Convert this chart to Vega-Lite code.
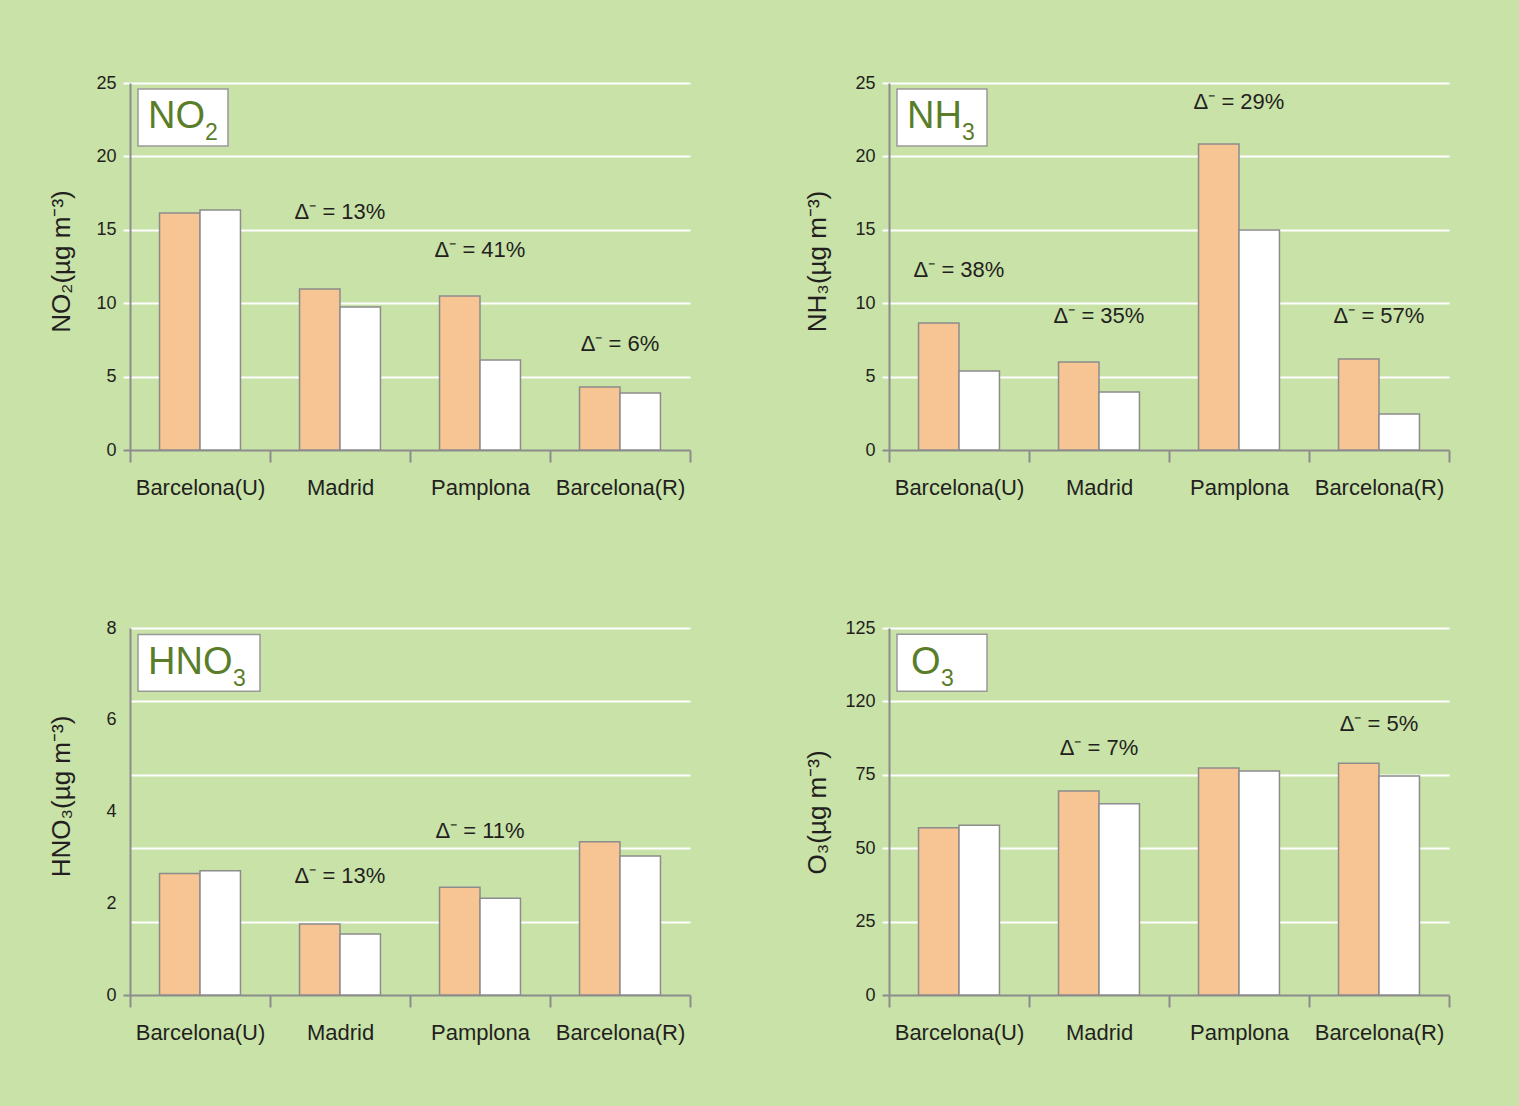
{
  "$schema": "https://vega.github.io/schema/vega-lite/v6.json",
  "padding": {"left": 48, "top": 74, "right": 75, "bottom": 75},
  "datasets": {
    "bars": [
      {"panel": "NO2", "site": "Barcelona(U)", "series": "S1", "value": 16.14},
      {"panel": "NO2", "site": "Barcelona(U)", "series": "S2", "value": 16.35},
      {"panel": "NO2", "site": "Madrid", "series": "S1", "value": 10.97},
      {"panel": "NO2", "site": "Madrid", "series": "S2", "value": 9.74},
      {"panel": "NO2", "site": "Pamplona", "series": "S1", "value": 10.49},
      {"panel": "NO2", "site": "Pamplona", "series": "S2", "value": 6.13},
      {"panel": "NO2", "site": "Barcelona(R)", "series": "S1", "value": 4.29},
      {"panel": "NO2", "site": "Barcelona(R)", "series": "S2", "value": 3.88},
      {"panel": "NH3", "site": "Barcelona(U)", "series": "S1", "value": 8.65},
      {"panel": "NH3", "site": "Barcelona(U)", "series": "S2", "value": 5.38},
      {"panel": "NH3", "site": "Madrid", "series": "S1", "value": 5.99},
      {"panel": "NH3", "site": "Madrid", "series": "S2", "value": 3.95},
      {"panel": "NH3", "site": "Pamplona", "series": "S1", "value": 20.84},
      {"panel": "NH3", "site": "Pamplona", "series": "S2", "value": 14.99},
      {"panel": "NH3", "site": "Barcelona(R)", "series": "S1", "value": 6.2},
      {"panel": "NH3", "site": "Barcelona(R)", "series": "S2", "value": 2.45},
      {"panel": "HNO3", "site": "Barcelona(U)", "series": "S1", "value": 2.65},
      {"panel": "HNO3", "site": "Barcelona(U)", "series": "S2", "value": 2.71},
      {"panel": "HNO3", "site": "Madrid", "series": "S1", "value": 1.55},
      {"panel": "HNO3", "site": "Madrid", "series": "S2", "value": 1.33},
      {"panel": "HNO3", "site": "Pamplona", "series": "S1", "value": 2.35},
      {"panel": "HNO3", "site": "Pamplona", "series": "S2", "value": 2.11},
      {"panel": "HNO3", "site": "Barcelona(R)", "series": "S1", "value": 3.34},
      {"panel": "HNO3", "site": "Barcelona(R)", "series": "S2", "value": 3.03},
      {"panel": "O3", "site": "Barcelona(U)", "series": "S1", "value": 57.0},
      {"panel": "O3", "site": "Barcelona(U)", "series": "S2", "value": 57.8},
      {"panel": "O3", "site": "Madrid", "series": "S1", "value": 69.5},
      {"panel": "O3", "site": "Madrid", "series": "S2", "value": 65.1},
      {"panel": "O3", "site": "Pamplona", "series": "S1", "value": 77.3},
      {"panel": "O3", "site": "Pamplona", "series": "S2", "value": 76.3},
      {"panel": "O3", "site": "Barcelona(R)", "series": "S1", "value": 78.9},
      {"panel": "O3", "site": "Barcelona(R)", "series": "S2", "value": 74.6}
    ],
    "notes": [
      {"panel": "NO2", "site": "Madrid", "y": 16.2, "label": "Δ⁻ = 13%"},
      {"panel": "NO2", "site": "Pamplona", "y": 13.62, "label": "Δ⁻ = 41%"},
      {"panel": "NO2", "site": "Barcelona(R)", "y": 7.22, "label": "Δ⁻ = 6%"},
      {"panel": "NH3", "site": "Barcelona(U)", "y": 12.26, "label": "Δ⁻ = 38%"},
      {"panel": "NH3", "site": "Madrid", "y": 9.13, "label": "Δ⁻ = 35%"},
      {"panel": "NH3", "site": "Pamplona", "y": 23.71, "label": "Δ⁻ = 29%"},
      {"panel": "NH3", "site": "Barcelona(R)", "y": 9.13, "label": "Δ⁻ = 57%"},
      {"panel": "HNO3", "site": "Madrid", "y": 2.59, "label": "Δ⁻ = 13%"},
      {"panel": "HNO3", "site": "Pamplona", "y": 3.57, "label": "Δ⁻ = 11%"},
      {"panel": "O3", "site": "Madrid", "y": 84.1, "label": "Δ⁻ = 7%"},
      {"panel": "O3", "site": "Barcelona(R)", "y": 92.3, "label": "Δ⁻ = 5%"}
    ],
    "titles": [
      {"panel": "NO2", "site": "Barcelona(U)", "y": 22.65, "name": "NO", "sub": "2"},
      {"panel": "NH3", "site": "Barcelona(U)", "y": 22.65, "name": "NH", "sub": "3"},
      {"panel": "HNO3", "site": "Barcelona(U)", "y": 7.24, "name": "HNO", "sub": "3"},
      {"panel": "O3", "site": "Barcelona(U)", "y": 113.2, "name": "O", "sub": "3"}
    ]
  },
  "columns": 2,
  "spacing": {"row": 178, "column": 199},
  "bounds": "flush",
  "concat": [
    {
      "width": 560, "height": 367,
      "layer": [
        {
          "data": {"name": "bars"},
          "transform": [{"filter": "datum.panel === 'NO2'"}],
          "mark": {"type": "bar", "stroke": "#8c8c8c", "strokeWidth": 1.5},
          "encoding": {
            "x": {"field": "site", "type": "nominal", "scale": {"domain": ["Barcelona(U)", "Madrid", "Pamplona", "Barcelona(R)"], "paddingInner": 0, "paddingOuter": 0}, "axis": {"title": null, "tickBand": "extent"}},
            "xOffset": {"field": "series", "type": "nominal", "scale": {"domain": ["S1", "S2"], "paddingInner": 0, "paddingOuter": 0.73}},
            "y": {"field": "value", "type": "quantitative", "scale": {"domain": [0, 25], "nice": false}, "axis": {"title": "NO₂(µg m⁻³)", "values": [0, 5, 10, 15, 20, 25], "titleX": -56, "titleY": 178, "tickColor": {"condition": {"test": "datum.value === 0", "value": "#8c8c8c"}, "value": "#ffffff"}, "gridColor": {"condition": {"test": "datum.value === 0", "value": "rgba(0,0,0,0)"}, "value": "#ffffff"}}},
            "color": {"field": "series", "type": "nominal", "scale": {"domain": ["S1", "S2"], "range": ["#f7c594", "#ffffff"]}, "legend": null}
          }
        },
        {
          "data": {"name": "titles"},
          "transform": [{"filter": "datum.panel === 'NO2'"}],
          "mark": {"type": "point", "shape": "M-1,-0.633H1V0.633H-1Z", "size": 8100, "filled": true, "fill": "#ffffff", "stroke": "#999999", "strokeWidth": 1.5, "opacity": 1, "xOffset": -17},
          "encoding": {"x": {"field": "site", "type": "nominal"}, "y": {"field": "y", "type": "quantitative"}}
        },
        {
          "data": {"name": "titles"},
          "transform": [{"filter": "datum.panel === 'NO2'"}],
          "mark": {"type": "text", "align": "left", "baseline": "alphabetic", "fontSize": 38, "color": "#5a7d2a", "dx": -52, "dy": 11},
          "encoding": {"x": {"field": "site", "type": "nominal"}, "y": {"field": "y", "type": "quantitative"}, "text": {"field": "name"}}
        },
        {
          "data": {"name": "titles"},
          "transform": [{"filter": "datum.panel === 'NO2'"}],
          "mark": {"type": "text", "align": "left", "baseline": "alphabetic", "fontSize": 23, "color": "#5a7d2a", "dx": 5, "dy": 23},
          "encoding": {"x": {"field": "site", "type": "nominal"}, "y": {"field": "y", "type": "quantitative"}, "text": {"field": "sub"}}
        },
        {
          "data": {"name": "notes"},
          "transform": [{"filter": "datum.panel === 'NO2'"}],
          "mark": {"type": "text", "fontSize": 22, "color": "#231f20", "baseline": "middle"},
          "encoding": {"x": {"field": "site", "type": "nominal"}, "y": {"field": "y", "type": "quantitative"}, "text": {"field": "label"}}
        }
      ]
    },
    {
      "width": 560, "height": 367,
      "layer": [
        {
          "data": {"name": "bars"},
          "transform": [{"filter": "datum.panel === 'NH3'"}],
          "mark": {"type": "bar", "stroke": "#8c8c8c", "strokeWidth": 1.5},
          "encoding": {
            "x": {"field": "site", "type": "nominal", "scale": {"domain": ["Barcelona(U)", "Madrid", "Pamplona", "Barcelona(R)"], "paddingInner": 0, "paddingOuter": 0}, "axis": {"title": null, "tickBand": "extent"}},
            "xOffset": {"field": "series", "type": "nominal", "scale": {"domain": ["S1", "S2"], "paddingInner": 0, "paddingOuter": 0.73}},
            "y": {"field": "value", "type": "quantitative", "scale": {"domain": [0, 25], "nice": false}, "axis": {"title": "NH₃(µg m⁻³)", "values": [0, 5, 10, 15, 20, 25], "titleX": -59, "titleY": 178, "tickColor": {"condition": {"test": "datum.value === 0", "value": "#8c8c8c"}, "value": "#ffffff"}, "gridColor": {"condition": {"test": "datum.value === 0", "value": "rgba(0,0,0,0)"}, "value": "#ffffff"}}},
            "color": {"field": "series", "type": "nominal", "scale": {"domain": ["S1", "S2"], "range": ["#f7c594", "#ffffff"]}, "legend": null}
          }
        },
        {
          "data": {"name": "titles"},
          "transform": [{"filter": "datum.panel === 'NH3'"}],
          "mark": {"type": "point", "shape": "M-1,-0.633H1V0.633H-1Z", "size": 8100, "filled": true, "fill": "#ffffff", "stroke": "#999999", "strokeWidth": 1.5, "opacity": 1, "xOffset": -17},
          "encoding": {"x": {"field": "site", "type": "nominal"}, "y": {"field": "y", "type": "quantitative"}}
        },
        {
          "data": {"name": "titles"},
          "transform": [{"filter": "datum.panel === 'NH3'"}],
          "mark": {"type": "text", "align": "left", "baseline": "alphabetic", "fontSize": 38, "color": "#5a7d2a", "dx": -52, "dy": 11},
          "encoding": {"x": {"field": "site", "type": "nominal"}, "y": {"field": "y", "type": "quantitative"}, "text": {"field": "name"}}
        },
        {
          "data": {"name": "titles"},
          "transform": [{"filter": "datum.panel === 'NH3'"}],
          "mark": {"type": "text", "align": "left", "baseline": "alphabetic", "fontSize": 23, "color": "#5a7d2a", "dx": 3, "dy": 23},
          "encoding": {"x": {"field": "site", "type": "nominal"}, "y": {"field": "y", "type": "quantitative"}, "text": {"field": "sub"}}
        },
        {
          "data": {"name": "notes"},
          "transform": [{"filter": "datum.panel === 'NH3'"}],
          "mark": {"type": "text", "fontSize": 22, "color": "#231f20", "baseline": "middle"},
          "encoding": {"x": {"field": "site", "type": "nominal"}, "y": {"field": "y", "type": "quantitative"}, "text": {"field": "label"}}
        }
      ]
    },
    {
      "width": 560, "height": 367,
      "layer": [
        {
          "data": {"name": "bars"},
          "transform": [{"filter": "datum.panel === 'HNO3'"}],
          "mark": {"type": "bar", "stroke": "#8c8c8c", "strokeWidth": 1.5},
          "encoding": {
            "x": {"field": "site", "type": "nominal", "scale": {"domain": ["Barcelona(U)", "Madrid", "Pamplona", "Barcelona(R)"], "paddingInner": 0, "paddingOuter": 0}, "axis": {"title": null, "tickBand": "extent"}},
            "xOffset": {"field": "series", "type": "nominal", "scale": {"domain": ["S1", "S2"], "paddingInner": 0, "paddingOuter": 0.73}},
            "y": {"field": "value", "type": "quantitative", "scale": {"domain": [0, 8], "nice": false}, "axis": {"title": "HNO₃(µg m⁻³)", "values": [0, 1.6, 2, 3.2, 4, 4.8, 6, 6.4, 8], "labelExpr": "(datum.value === 1.6 || datum.value === 3.2 || datum.value === 4.8 || datum.value === 6.4) ? '' : datum.label", "titleX": -56, "titleY": 168, "tickColor": {"condition": {"test": "datum.value === 0", "value": "#8c8c8c"}, "value": {"expr": "(datum.value === 2 || datum.value === 4 || datum.value === 6) ? 'rgba(0,0,0,0)' : '#ffffff'"}}, "gridColor": {"condition": {"test": "datum.value === 0 || datum.value === 2 || datum.value === 4 || datum.value === 6", "value": "rgba(0,0,0,0)"}, "value": "#ffffff"}}},
            "color": {"field": "series", "type": "nominal", "scale": {"domain": ["S1", "S2"], "range": ["#f7c594", "#ffffff"]}, "legend": null}
          }
        },
        {
          "data": {"name": "titles"},
          "transform": [{"filter": "datum.panel === 'HNO3'"}],
          "mark": {"type": "point", "shape": "M-1,-0.467H1V0.467H-1Z", "size": 14884, "filled": true, "fill": "#ffffff", "stroke": "#999999", "strokeWidth": 1.5, "opacity": 1, "xOffset": -1},
          "encoding": {"x": {"field": "site", "type": "nominal"}, "y": {"field": "y", "type": "quantitative"}}
        },
        {
          "data": {"name": "titles"},
          "transform": [{"filter": "datum.panel === 'HNO3'"}],
          "mark": {"type": "text", "align": "left", "baseline": "alphabetic", "fontSize": 38, "color": "#5a7d2a", "dx": -52, "dy": 11},
          "encoding": {"x": {"field": "site", "type": "nominal"}, "y": {"field": "y", "type": "quantitative"}, "text": {"field": "name"}}
        },
        {
          "data": {"name": "titles"},
          "transform": [{"filter": "datum.panel === 'HNO3'"}],
          "mark": {"type": "text", "align": "left", "baseline": "alphabetic", "fontSize": 23, "color": "#5a7d2a", "dx": 33, "dy": 23},
          "encoding": {"x": {"field": "site", "type": "nominal"}, "y": {"field": "y", "type": "quantitative"}, "text": {"field": "sub"}}
        },
        {
          "data": {"name": "notes"},
          "transform": [{"filter": "datum.panel === 'HNO3'"}],
          "mark": {"type": "text", "fontSize": 22, "color": "#231f20", "baseline": "middle"},
          "encoding": {"x": {"field": "site", "type": "nominal"}, "y": {"field": "y", "type": "quantitative"}, "text": {"field": "label"}}
        }
      ]
    },
    {
      "width": 560, "height": 367,
      "layer": [
        {
          "data": {"name": "bars"},
          "transform": [{"filter": "datum.panel === 'O3'"}],
          "mark": {"type": "bar", "stroke": "#8c8c8c", "strokeWidth": 1.5},
          "encoding": {
            "x": {"field": "site", "type": "nominal", "scale": {"domain": ["Barcelona(U)", "Madrid", "Pamplona", "Barcelona(R)"], "paddingInner": 0, "paddingOuter": 0}, "axis": {"title": null, "tickBand": "extent"}},
            "xOffset": {"field": "series", "type": "nominal", "scale": {"domain": ["S1", "S2"], "paddingInner": 0, "paddingOuter": 0.73}},
            "y": {"field": "value", "type": "quantitative", "scale": {"domain": [0, 125], "nice": false}, "axis": {"title": "O₃(µg m⁻³)", "values": [0, 25, 50, 75, 100, 125], "labelExpr": "datum.value === 100 ? '120' : datum.label", "titleX": -59, "titleY": 184, "tickColor": {"condition": {"test": "datum.value === 0", "value": "#8c8c8c"}, "value": "#ffffff"}, "gridColor": {"condition": {"test": "datum.value === 0", "value": "rgba(0,0,0,0)"}, "value": "#ffffff"}}},
            "color": {"field": "series", "type": "nominal", "scale": {"domain": ["S1", "S2"], "range": ["#f7c594", "#ffffff"]}, "legend": null}
          }
        },
        {
          "data": {"name": "titles"},
          "transform": [{"filter": "datum.panel === 'O3'"}],
          "mark": {"type": "point", "shape": "M-1,-0.633H1V0.633H-1Z", "size": 8100, "filled": true, "fill": "#ffffff", "stroke": "#999999", "strokeWidth": 1.5, "opacity": 1, "xOffset": -17},
          "encoding": {"x": {"field": "site", "type": "nominal"}, "y": {"field": "y", "type": "quantitative"}}
        },
        {
          "data": {"name": "titles"},
          "transform": [{"filter": "datum.panel === 'O3'"}],
          "mark": {"type": "text", "align": "left", "baseline": "alphabetic", "fontSize": 38, "color": "#5a7d2a", "dx": -48, "dy": 11},
          "encoding": {"x": {"field": "site", "type": "nominal"}, "y": {"field": "y", "type": "quantitative"}, "text": {"field": "name"}}
        },
        {
          "data": {"name": "titles"},
          "transform": [{"filter": "datum.panel === 'O3'"}],
          "mark": {"type": "text", "align": "left", "baseline": "alphabetic", "fontSize": 23, "color": "#5a7d2a", "dx": -18, "dy": 23},
          "encoding": {"x": {"field": "site", "type": "nominal"}, "y": {"field": "y", "type": "quantitative"}, "text": {"field": "sub"}}
        },
        {
          "data": {"name": "notes"},
          "transform": [{"filter": "datum.panel === 'O3'"}],
          "mark": {"type": "text", "fontSize": 22, "color": "#231f20", "baseline": "middle"},
          "encoding": {"x": {"field": "site", "type": "nominal"}, "y": {"field": "y", "type": "quantitative"}, "text": {"field": "label"}}
        }
      ]
    }
  ],
  "config": {
    "background": "#c9e2a8",
    "view": {"stroke": null},
    "font": "Liberation Sans",
    "text": {"font": "Liberation Sans"},
    "axis": {"domainColor": "#8c8c8c", "domainWidth": 2, "labelFont": "Liberation Sans", "labelColor": "#231f20", "titleFont": "Liberation Sans", "titleColor": "#231f20", "titleFontWeight": "normal"},
    "axisX": {"tickColor": "#8c8c8c", "tickWidth": 2, "tickSize": 12, "labelFontSize": 22, "labelPadding": 15, "grid": false, "labelAngle": 0},
    "axisY": {"tickSize": 7, "tickWidth": 2, "gridWidth": 2, "gridOpacity": 1, "labelFontSize": 18, "labelPadding": 7, "titleFontSize": 26, "labelOverlap": false, "titleBaseline": "bottom"}
  }
}
